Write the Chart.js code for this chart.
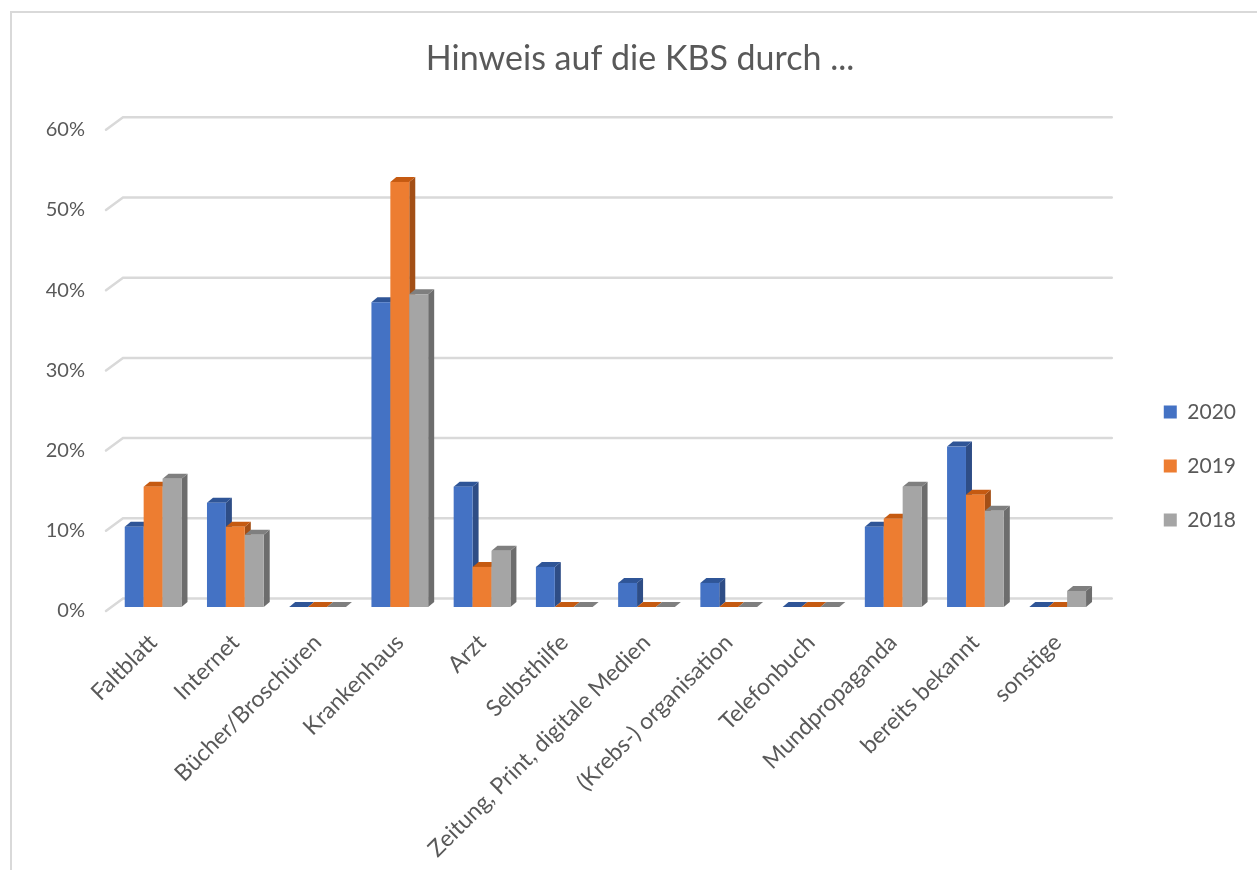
<!DOCTYPE html>
<html>
<head>
<meta charset="utf-8">
<script src="https://cdn.jsdelivr.net/npm/chart.js@4/dist/chart.umd.min.js"></script>
<style>
  html, body { margin: 0; padding: 0; background: #fff; }
  #frame { position: absolute; left: 10px; top: 11px; width: 1260px; height: 870px; border-left: 2px solid #d9d9d9; border-top: 2px solid #d9d9d9; }
  #wrap { position: absolute; left: 0; top: 0; width: 1257px; height: 870px; }
</style>
</head>
<body>
<div id="frame"></div>
<div id="wrap"><canvas id="c" width="1257" height="870"></canvas></div>
<script>
const categories = ["Faltblatt", "Internet", "Bücher/Broschüren", "Krankenhaus", "Arzt", "Selbsthilfe",
  "Zeitung, Print, digitale Medien", "(Krebs-) organisation", "Telefonbuch", "Mundpropaganda", "bereits bekannt", "sonstige"];
const values2020 = [10, 13, 0, 38, 15, 5, 3, 3, 0, 10, 20, 0];
const values2019 = [15, 10, 0, 53, 5, 0, 0, 0, 0, 11, 14, 0];
const values2018 = [16, 9, 0, 39, 7, 0, 0, 0, 0, 15, 12, 2];
const seriesNames = ["2020", "2019", "2018"];
const yTicks = [0, 10, 20, 30, 40, 50, 60];
const titleText = "Hinweis auf die KBS durch ...";

const FRONT = ["#4472c4", "#ed7d31", "#a5a5a5"];
const TOP   = ["#2f5597", "#c55a11", "#7f7f7f"];
const SIDE  = ["#2e4d86", "#a34f16", "#6d6d6d"];
const DX = 6, DY = 5;

const PAD_LEFT = 34, CHART_LEFT = 112, CHART_BOTTOM = 607;

const threeD = {
  id: 'threeD',
  beforeDatasetsDraw(chart) {
    const ctx = chart.ctx;
    const ca = chart.chartArea;
    const y = chart.scales.y;
    ctx.save();
    ctx.strokeStyle = '#d9d9d9';
    ctx.lineWidth = 2.5;
    ctx.lineCap = 'round';
    yTicks.forEach(v => {
      const py = y.getPixelForValue(v);
      ctx.beginPath();
      ctx.moveTo(ca.left - 6, py + 4);
      ctx.lineTo(ca.left + 11, py - 8.5);
      ctx.lineTo(ca.right + 13, py - 8.5);
      ctx.stroke();
    });
    ctx.restore();
    const metas = chart.data.datasets.map((d, i) => chart.getDatasetMeta(i));
    for (let i = 0; i < categories.length; i++) {
      metas.forEach((meta, s) => {
        const el = meta.data[i];
        const p = el.getProps(['x', 'y', 'base', 'width'], true);
        const x0 = p.x - p.width / 2, x1 = p.x + p.width / 2;
        const yt = Math.min(p.y, p.base), yb = Math.max(p.y, p.base);
        ctx.save();
        ctx.fillStyle = SIDE[s];
        ctx.beginPath();
        ctx.moveTo(x1, yt); ctx.lineTo(x1 + DX, yt - DY); ctx.lineTo(x1 + DX, yb - DY); ctx.lineTo(x1, yb);
        ctx.closePath(); ctx.fill();
        ctx.fillStyle = TOP[s];
        ctx.beginPath();
        ctx.moveTo(x0, yt); ctx.lineTo(x1, yt); ctx.lineTo(x1 + DX, yt - DY); ctx.lineTo(x0 + DX, yt - DY);
        ctx.closePath(); ctx.fill();
        if (yb - yt > 0.5) {
          ctx.fillStyle = FRONT[s];
          ctx.fillRect(x0, yt, x1 - x0, yb - yt);
        }
        ctx.restore();
      });
    }
    return false;
  }
};

const chart = new Chart(document.getElementById('c'), {
  type: 'bar',
  data: {
    labels: categories,
    datasets: [
      { label: seriesNames[0], data: values2020, backgroundColor: FRONT[0] },
      { label: seriesNames[1], data: values2019, backgroundColor: FRONT[1] },
      { label: seriesNames[2], data: values2018, backgroundColor: FRONT[2] }
    ]
  },
  plugins: [threeD],
  options: {
    responsive: false,
    animation: false,
    devicePixelRatio: 1,
    layout: { padding: { left: PAD_LEFT, right: 11, top: 0, bottom: 0 } },
    datasets: { bar: { categoryPercentage: 0.69, barPercentage: 1.0 } },
    plugins: {
      title: {
        display: true,
        text: titleText,
        color: '#595959',
        font: { family: 'Lato', size: 34, weight: 'normal' },
        padding: { top: 39, bottom: 46 }
      },
      legend: {
        position: 'right',
        title: { display: true, text: '', font: { size: 10 }, padding: 25 },
        labels: {
          color: '#595959',
          font: { family: 'Lato', size: 21 },
          boxWidth: 13,
          boxHeight: 13,
          padding: 33
        }
      },
      tooltip: { enabled: false }
    },
    scales: {
      x: {
        grid: { display: false, drawTicks: false },
        border: { display: false },
        ticks: {
          color: '#595959',
          font: { family: 'Lato', size: 23 },
          minRotation: 45, maxRotation: 45,
          padding: 22,
          autoSkip: false
        },
        afterFit(scale) { scale.height = 870 - CHART_BOTTOM; }
      },
      y: {
        min: 0, max: 60,
        grid: { display: false, drawTicks: false },
        border: { display: false },
        ticks: {
          stepSize: 10,
          color: '#595959',
          font: { family: 'Lato', size: 20 },
          padding: 27,
          labelOffset: 4,
          callback: v => v + '%'
        },
        afterFit(scale) { scale.width = CHART_LEFT - PAD_LEFT; }
      },
      depthSpace: {
        type: 'linear',
        position: 'right',
        display: true,
        grid: { display: false, drawTicks: false },
        border: { display: false },
        ticks: { display: false },
        afterFit(scale) { scale.width = 32; }
      }
    }
  }
});
</script>
</body>
</html>
